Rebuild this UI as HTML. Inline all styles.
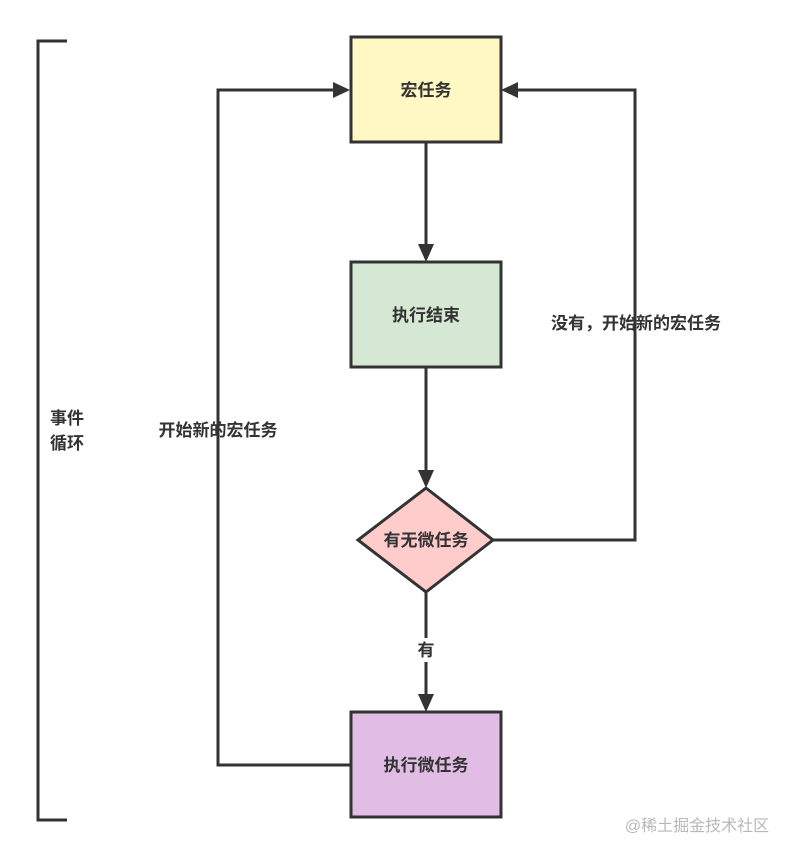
<!DOCTYPE html>
<html><head><meta charset="utf-8"><style>
html,body{margin:0;padding:0;background:#fff;}
svg{display:block;}
text{font-family:"Liberation Sans","Noto Sans CJK SC",sans-serif;font-weight:bold;fill:#333;}
</style></head><body>
<svg width="795" height="858" viewBox="0 0 795 858" xmlns="http://www.w3.org/2000/svg">
<defs><marker id="a" viewBox="0 0 10 10" refX="9" refY="5" markerWidth="5" markerHeight="5" orient="auto" markerUnits="userSpaceOnUse"><path d="M0,0 L10,5 L0,10 Z" fill="#333"/></marker></defs>
<g stroke="#333" stroke-width="3" fill="none">
<path d="M67,41 H38 V820 H67"/>
</g>
<g stroke="#333" stroke-width="3" fill="none">
<line x1="426" y1="142" x2="426" y2="246"/>
<line x1="426" y1="367" x2="426" y2="472"/>
<line x1="426" y1="592" x2="426" y2="696"/>
<polyline points="493,540 635,540 635,90 518,90"/>
<polyline points="351,765 218,765 218,90 334,90"/>
</g>
<g fill="#333">
<path d="M418,244 L434,244 L426,262 Z"/>
<path d="M418,470 L434,470 L426,488 Z"/>
<path d="M418,694 L434,694 L426,712 Z"/>
<path d="M518,82 L518,98 L501,90 Z"/>
<path d="M333,82 L333,98 L350,90 Z"/>
</g>
<rect x="351" y="37" width="150" height="105" fill="#fff8c4" stroke="#333" stroke-width="3"/>
<rect x="351" y="262" width="150" height="105" fill="#d5e8d4" stroke="#333" stroke-width="3"/>
<polygon points="426,488 493,540 426,592 358,540" fill="#ffcccc" stroke="#333" stroke-width="3"/>
<rect x="351" y="712" width="150" height="105" fill="#e1bde6" stroke="#333" stroke-width="3"/>
<rect x="412" y="638" width="28" height="24" fill="#fff"/>
<g font-size="17" text-anchor="middle">
<text x="426" y="96">宏任务</text>
<text x="426" y="321">执行结束</text>
<text x="426" y="546">有无微任务</text>
<text x="426" y="771">执行微任务</text>
<text x="426" y="656">有</text>
<text x="636" y="329">没有，开始新的宏任务</text>
<text x="218" y="436">开始新的宏任务</text>
<text x="67" y="424">事件</text>
<text x="67" y="449">循环</text>
</g>
<text x="697" y="831" font-size="16" text-anchor="middle" style="font-weight:normal;fill:#b8b8b8">@稀土掘金技术社区</text>
</svg>
</body></html>
